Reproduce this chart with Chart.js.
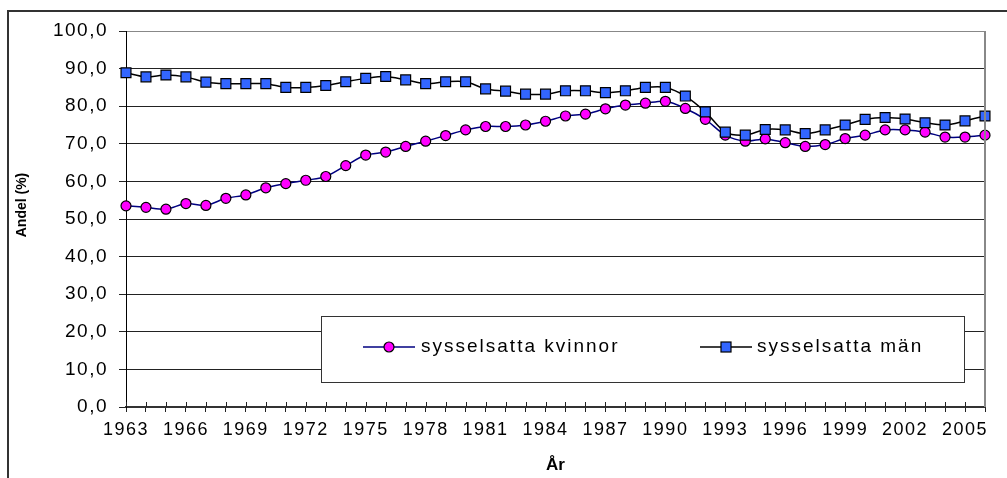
<!DOCTYPE html>
<html>
<head>
<meta charset="utf-8">
<script src="https://cdn.jsdelivr.net/npm/chart.js@4/dist/chart.umd.min.js"></script>
<style>
  html, body { margin: 0; padding: 0; background: #fff; }
  #wrap { position: relative; width: 1007px; height: 478px; }
</style>
</head>
<body>
<div id="wrap"><canvas id="myChart"></canvas></div>
<script>
// years 1963 - 2006
var years = ["1963","1964","1965","1966","1967","1968","1969","1970","1971","1972",
             "1973","1974","1975","1976","1977","1978","1979","1980","1981","1982",
             "1983","1984","1985","1986","1987","1988","1989","1990","1991","1992",
             "1993","1994","1995","1996","1997","1998","1999","2000","2001","2002",
             "2003","2004","2005","2006"];

var kvinnor = [53.5, 53.1, 52.6, 54.1, 53.6, 55.5, 56.4, 58.3, 59.4, 60.3,
               61.3, 64.2, 67.0, 67.8, 69.3, 70.7, 72.2, 73.7, 74.6, 74.6,
               75.0, 76.0, 77.4, 77.9, 79.3, 80.3, 80.8, 81.3, 79.4, 76.5,
               72.3, 70.7, 71.3, 70.3, 69.3, 69.8, 71.4, 72.3, 73.7, 73.7,
               73.1, 71.8, 71.8, 72.3];

var man = [88.9, 87.8, 88.3, 87.8, 86.4, 86.0, 86.0, 86.0, 85.0, 85.0,
           85.5, 86.5, 87.4, 87.9, 87.0, 86.0, 86.5, 86.5, 84.6, 84.0,
           83.2, 83.2, 84.1, 84.1, 83.6, 84.1, 85.0, 85.0, 82.7, 78.5,
           73.1, 72.3, 73.8, 73.7, 72.7, 73.7, 75.0, 76.5, 77.0, 76.6,
           75.6, 75.0, 76.1, 77.4];

var FONT = "'Liberation Sans', Arial, sans-serif";

// white page, frame, legend box, axis titles, cross ticks
var extras = {
    id: 'extras',
    beforeDraw: function(chart){
        var c = chart.ctx;
        c.save();
        c.fillStyle = '#fff';
        c.fillRect(0, 0, chart.width, chart.height);
        c.restore();
        c.letterSpacing = '1.5px';
    },
    afterDraw: function(chart){
        var c = chart.ctx;
        var a = chart.chartArea;
        var x = chart.scales.x;
        c.save();
        c.letterSpacing = '0px';

        // upper half of the cross ticks
        c.strokeStyle = '#222';
        c.lineWidth = 1;
        for (var i = 0; i < years.length; i++) {
            var px = Math.round(x.getPixelForValue(i)) + 0.5;
            c.beginPath();
            c.moveTo(px, a.bottom - 5);
            c.lineTo(px, a.bottom);
            c.stroke();
        }

        // right border of plot area
        c.strokeStyle = '#888';
        c.lineWidth = 2;
        c.beginPath();
        c.moveTo(a.right, a.top);
        c.lineTo(a.right, a.bottom);
        c.stroke();

        // outer frame
        c.strokeStyle = '#333';
        c.lineWidth = 2;
        c.beginPath();
        c.moveTo(8, chart.height);
        c.lineTo(8, 11);
        c.lineTo(chart.width, 11);
        c.stroke();

        // axis titles
        c.fillStyle = '#000';
        c.font = 'bold 17px ' + FONT;
        c.textAlign = 'center';
        c.textBaseline = 'alphabetic';
        c.fillText('År', (a.left + a.right) / 2, 470);
        c.save();
        c.translate(22.5, 205);
        c.rotate(-Math.PI / 2);
        c.font = 'bold 14px ' + FONT;
        c.textBaseline = 'middle';
        c.fillText('Andel (%)', 0, 0);
        c.restore();

        // legend
        c.fillStyle = '#fff';
        c.fillRect(321, 316, 643, 66);
        c.strokeStyle = '#333';
        c.lineWidth = 1;
        c.strokeRect(321.5, 316.5, 643, 66);

        var ly = 347;
        c.lineWidth = 1.5;
        c.strokeStyle = '#000080';
        c.beginPath(); c.moveTo(363, ly); c.lineTo(415, ly); c.stroke();
        c.beginPath(); c.arc(389, ly, 5, 0, Math.PI * 2);
        c.fillStyle = '#ff00ff'; c.fill();
        c.lineWidth = 1.2; c.strokeStyle = '#000'; c.stroke();

        c.lineWidth = 1.5;
        c.strokeStyle = '#000';
        c.beginPath(); c.moveTo(700, ly); c.lineTo(752, ly); c.stroke();
        c.fillStyle = '#3366ff';
        c.fillRect(721, ly - 5, 10, 10);
        c.lineWidth = 1.2;
        c.strokeRect(721, ly - 5, 10, 10);

        c.fillStyle = '#000';
        c.font = '19px ' + FONT;
        c.letterSpacing = '2px';
        c.textAlign = 'left';
        c.textBaseline = 'middle';
        c.fillText('sysselsatta kvinnor', 421, ly);
        c.fillText('sysselsatta män', 757, ly);
        c.restore();
    }
};

var ctx = document.getElementById("myChart");
var myChart = new Chart(ctx, {
    type: 'line',
    data: {
        labels: years,
        datasets: [
            {
                data: kvinnor,
                label: "sysselsatta kvinnor",
                borderColor: "#000080",
                borderWidth: 1.5,
                pointStyle: 'circle',
                pointRadius: 5,
                pointBackgroundColor: "#ff00ff",
                pointBorderColor: "#000",
                pointBorderWidth: 1.2,
                tension: 0.3,
                fill: false,
                order: 1
            },
            {
                data: man,
                label: "sysselsatta män",
                borderColor: "#000",
                borderWidth: 1.5,
                pointStyle: 'rect',
                pointRadius: 7,
                pointBackgroundColor: "#3366ff",
                pointBorderColor: "#000",
                pointBorderWidth: 1.2,
                tension: 0.3,
                fill: false,
                order: 0
            }
        ]
    },
    options: {
        responsive: true,
        maintainAspectRatio: false,
        animation: false,
        layout: { padding: { top: 31, right: 22, left: 0, bottom: 0 } },
        plugins: {
            legend: { display: false },
            tooltip: { enabled: false }
        },
        scales: {
            x: {
                grid: { display: true, drawOnChartArea: false, drawTicks: true, tickLength: 5, tickColor: '#222' },
                border: { color: '#333', width: 2 },
                ticks: {
                    autoSkip: false,
                    maxRotation: 0,
                    padding: 7,
                    color: '#000',
                    font: { family: FONT, size: 18 },
                    callback: function(v, i){
                        return i % 3 === 0 ? years[i] : '';
                    }
                },
                afterFit: function(s){ s.height = 71; }
            },
            y: {
                min: 0,
                max: 100,
                grid: {
                    color: function(c){ return c.tick && c.tick.value === 100 ? '#888' : '#222'; },
                    tickLength: 7,
                    tickColor: '#222'
                },
                border: { color: '#000', width: 1 },
                ticks: {
                    stepSize: 10,
                    padding: 11,
                    color: '#000',
                    font: { family: FONT, size: 19 },
                    callback: function(v){ return v.toFixed(1).replace('.', ','); }
                },
                afterFit: function(s){ s.width = 126; }
            }
        }
    },
    plugins: [extras]
});
</script>
</body>
</html>
